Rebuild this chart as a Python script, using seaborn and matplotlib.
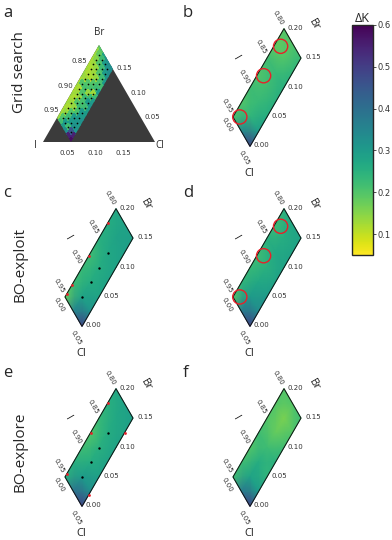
import matplotlib
matplotlib.use("Agg")
import matplotlib.pyplot as plt
from matplotlib.patches import Polygon
from matplotlib.colors import Normalize
from matplotlib.cm import ScalarMappable
import numpy as np
import seaborn as sns

FIG_W, FIG_H, DPI = 392, 540, 100

# Grid search (panel a): I rows x Cl columns, dK values
GRID_CL = [0.00, 0.01, 0.02, 0.03, 0.04, 0.05]
GRID_I = [0.80, 0.81, 0.82, 0.83, 0.84, 0.85, 0.86, 0.87,
          0.88, 0.89, 0.90, 0.91, 0.92, 0.93, 0.94, 0.95]
GRID_DK = [
    [0.18, 0.20, 0.28, 0.32, 0.33, 0.33],
    [0.14, 0.18, 0.22, 0.30, 0.32, 0.33],
    [0.13, 0.15, 0.20, 0.22, 0.30, 0.32],
    [0.12, 0.13, 0.14, 0.20, 0.22, 0.30],
    [0.12, 0.12, 0.13, 0.14, 0.21, 0.22],
    [0.13, 0.12, 0.12, 0.20, 0.22, 0.30],
    [0.14, 0.13, 0.20, 0.21, 0.13, 0.22],
    [0.12, 0.20, 0.21, 0.14, 0.22, 0.30],
    [0.13, 0.12, 0.20, 0.22, 0.30, 0.31],
    [0.12, 0.13, 0.14, 0.21, 0.22, 0.30],
    [0.13, 0.12, 0.20, 0.22, 0.30, 0.30],
    [0.12, 0.13, 0.14, 0.21, 0.30, 0.32],
    [0.13, 0.12, 0.20, 0.30, 0.31, 0.30],
    [0.12, 0.14, 0.22, 0.30, 0.32, 0.31],
    [0.13, 0.20, 0.30, 0.22, 0.45, 0.55],
    [0.14, 0.22, 0.30, 0.33, 0.55, 0.58],
]
SAMPLE_CL = [0.01, 0.02, 0.03, 0.04]
SAMPLE_I = [0.81, 0.82, 0.83, 0.84, 0.85, 0.86, 0.87,
            0.88, 0.89, 0.90, 0.91, 0.92, 0.93, 0.94]

# Model predictions (panels b-f) on a coarse I x Cl grid
NODE_CL = [0.0, 0.025, 0.05]
NODE_I = [0.80, 0.825, 0.85, 0.875, 0.90, 0.925, 0.95]
B_DK = [[0.20, 0.20, 0.23], [0.18, 0.20, 0.24], [0.22, 0.23, 0.25], [0.20, 0.22, 0.25],
        [0.22, 0.23, 0.26], [0.20, 0.24, 0.30], [0.21, 0.35, 0.50]]
C_DK = [[0.27, 0.28, 0.29], [0.26, 0.28, 0.29], [0.25, 0.27, 0.28], [0.22, 0.26, 0.28],
        [0.23, 0.26, 0.28], [0.22, 0.28, 0.32], [0.18, 0.36, 0.50]]
D_DK = [[0.25, 0.27, 0.28], [0.22, 0.26, 0.28], [0.25, 0.27, 0.28], [0.22, 0.25, 0.28],
        [0.23, 0.27, 0.30], [0.24, 0.30, 0.34], [0.20, 0.38, 0.50]]
E_DK = [[0.27, 0.28, 0.29], [0.25, 0.27, 0.28], [0.23, 0.26, 0.28], [0.20, 0.25, 0.28],
        [0.22, 0.26, 0.29], [0.25, 0.30, 0.33], [0.25, 0.40, 0.50]]
F_DK = [[0.20, 0.20, 0.22], [0.20, 0.16, 0.20], [0.20, 0.18, 0.22], [0.22, 0.22, 0.25],
        [0.20, 0.26, 0.24], [0.22, 0.28, 0.30], [0.22, 0.38, 0.50]]

# sampled compositions
INIT_CL = [0.025, 0.025, 0.025, 0.025]
INIT_BR = [0.05, 0.075, 0.10, 0.125]
EXPLOIT_CL = [0.0, 0.0, 0.0, 0.0]
EXPLOIT_BR = [0.175, 0.12, 0.07, 0.055]
EXPLORE_CL = [0.0, 0.0, 0.0, 0.05, 0.05]
EXPLORE_BR = [0.175, 0.125, 0.055, 0.02, 0.125]
OPT_CL = [0.01, 0.01, 0.01]
OPT_BR = [0.17, 0.12, 0.05]

I_TICKS = [0.80, 0.85, 0.90, 0.95]
BR_TICKS = [0.20, 0.15, 0.10, 0.05, 0.00]
CBAR_TICKS = [0.1, 0.2, 0.3, 0.4, 0.5, 0.6]

sns.set_style("white")
plt.rcParams["font.family"] = ["DejaVu Sans"]
CMAP = sns.color_palette("viridis_r", as_cmap=True)
NORM = Normalize(0.05, 0.6)
TICK_KW = dict(fontsize=5, color="#333333", family="DejaVu Sans")
LAB_KW = dict(fontsize=8, family="Open Sans", color="#222222")


def to_xy(cl, br):
    cl = np.asarray(cl, float)
    br = np.asarray(br, float)
    return cl + br / 2, br * np.sqrt(3) / 2


def add_panel(fig, origin, scale, box):
    L, T, W, H = box
    ax = fig.add_axes([L / FIG_W, 1 - (T + H) / FIG_H, W / FIG_W, H / FIG_H])
    ox, oy = origin
    ax.set_xlim((L - ox) / scale, (L + W - ox) / scale)
    ax.set_ylim((oy - (T + H)) / scale, (oy - T) / scale)
    ax.set_axis_off()
    return ax


def put(ax, cl, br, text, dx, dy, **kw):
    x, y = to_xy(cl, br)
    ax.annotate(text, (x, y), xytext=(dx * 0.72, -dy * 0.72),
                textcoords="offset points", annotation_clip=False, **kw)


def strip_xy():
    x, y = to_xy([0, 0, 0.05, 0.05], [0.05, 0.2, 0.15, 0.0])
    return np.column_stack([x, y])


def mesh(cl_list, i_list):
    CL, I = np.meshgrid(cl_list, i_list)
    return to_xy(CL, 1 - I - CL)


fig = plt.figure(figsize=(FIG_W / DPI, FIG_H / DPI), dpi=DPI)

# ---- panel a: full (zoomed) ternary with grid search
ax = add_panel(fig, (43, 142), 560, (0, 0, 180, 180))
tri = Polygon(np.column_stack(to_xy([0, 0.2, 0], [0, 0, 0.2])), closed=True,
              fc="#3b3b3b", ec="none")
ax.add_patch(tri)
clip = Polygon(strip_xy(), closed=True, fc="none", ec="none")
ax.add_patch(clip)
X, Y = mesh(GRID_CL, GRID_I)
qm = ax.pcolormesh(X, Y, np.array(GRID_DK), shading="nearest", cmap=CMAP, norm=NORM)
qm.set_clip_path(clip)
SX, SY = mesh(SAMPLE_CL, SAMPLE_I)
sns.scatterplot(x=SX.ravel(), y=SY.ravel(), ax=ax, color="black", s=1.5,
                linewidth=0, legend=False, zorder=5)
for v in [0.85, 0.90, 0.95]:
    put(ax, 0, 1 - v, f"{v:.2f}", 2, -8, ha="right", va="center", **TICK_KW)
for v in [0.15, 0.10, 0.05]:
    put(ax, 0.2 - v, v, f"{v:.2f}", 3, -1, ha="left", va="center", **TICK_KW)
for v in [0.05, 0.10, 0.15]:
    put(ax, v, 0, f"{v:.2f}", -4, 11, ha="center", va="center", **TICK_KW)
put(ax, 0, 0.2, "Br", 0, -13, ha="center", va="center", fontsize=7, family="Open Sans")
put(ax, 0, 0, "I", -8, 4, ha="center", va="center", fontsize=7, family="Open Sans")
put(ax, 0.2, 0, "Cl", 5, 4, ha="center", va="center", fontsize=7, family="Open Sans")

# ---- panels b-f: parallelogram strips
panels = [
    ((216, 146.4), (180, 0), B_DK, None, False, True),
    ((48, 326.4), (0, 180), C_DK, (EXPLOIT_CL, EXPLOIT_BR), True, False),
    ((216, 326.4), (180, 180), D_DK, None, False, True),
    ((48, 506.4), (0, 360), E_DK, (EXPLORE_CL, EXPLORE_BR), True, False),
    ((216, 506.4), (180, 360), F_DK, None, False, False),
]
NX, NY = mesh(NODE_CL, NODE_I)
for origin, (L, T), vals, red, init, circles in panels:
    ax = add_panel(fig, origin, 680, (L, T, 170, 180))
    ax.pcolormesh(NX, NY, np.array(vals), shading="gouraud", cmap=CMAP, norm=NORM)
    ax.add_patch(Polygon(strip_xy(), closed=True, fc="none", ec="#111111", lw=0.7,
                         joinstyle="miter", zorder=4))
    if init:
        x, y = to_xy(INIT_CL, INIT_BR)
        sns.scatterplot(x=x, y=y, ax=ax, color="black", s=3, linewidth=0,
                        legend=False, zorder=6)
    if red is not None:
        x, y = to_xy(*red)
        sns.scatterplot(x=x, y=y, ax=ax, color="#e8202a", s=4, linewidth=0,
                        legend=False, zorder=6)
    if circles:
        x, y = to_xy(OPT_CL, OPT_BR)
        ax.scatter(x, y, s=105, facecolors="none", edgecolors="#e8202a",
                   linewidths=1.0, zorder=7)
    for v in I_TICKS:
        put(ax, 0, 1 - v, f"{v:.2f}", -6, -11, ha="center", va="center",
            rotation=-60, **TICK_KW)
    for v in BR_TICKS:
        put(ax, 0.05 if v <= 0.15 else 0.0, v, f"{v:.2f}", 4, -1, ha="left",
            va="center", **TICK_KW)
    put(ax, 0.0, 0.05, "0.00", -6, 8, ha="center", va="center", rotation=-60, **TICK_KW)
    put(ax, 0.05, 0.0, "0.05", -6, 11, ha="center", va="center", rotation=-60, **TICK_KW)
    put(ax, 0.0, 0.125, "I", -23, -15, ha="center", va="center", rotation=-60, **LAB_KW)
    put(ax, 0.025, 0.175, "Br", 22, -18, ha="center", va="center", rotation=-60, **LAB_KW)
    put(ax, 0.05, 0.0, "Cl", -1, 27, ha="center", va="center", **LAB_KW)

# ---- colorbar
cax = fig.add_axes([352 / FIG_W, 1 - 255 / FIG_H, 21 / FIG_W, 230 / FIG_H])
cb = fig.colorbar(ScalarMappable(norm=NORM, cmap=CMAP), cax=cax, ticks=CBAR_TICKS)
cb.outline.set_linewidth(1.0)
cax.tick_params(labelsize=6, length=2, width=0.6, pad=1, colors="#333333")
cax.set_title("\u0394K", fontsize=9, pad=2, family="Open Sans")

# ---- panel letters and row titles
for letter, (px, py) in zip("abcdef", [(3, 17), (183, 17), (3, 197), (183, 197), (3, 377), (183, 377)]):
    fig.text(px / FIG_W, 1 - py / FIG_H, letter, fontsize=12, family="Open Sans", va="baseline")
for title, py in [("Grid search", 72), ("BO-exploit", 265), ("BO-explore", 452)]:
    fig.text(20 / FIG_W, 1 - py / FIG_H, title, rotation=90, fontsize=11,
             family="Open Sans", ha="center", va="center")

fig.savefig("out.png", dpi=DPI)
